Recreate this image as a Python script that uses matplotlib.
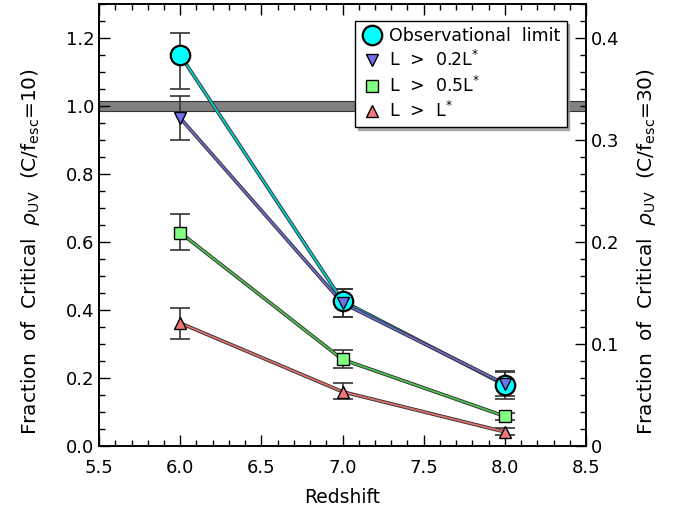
import numpy as np
import matplotlib
matplotlib.use("Agg")
import matplotlib.pyplot as plt
import matplotlib.patheffects as pe
from matplotlib.ticker import MultipleLocator, FixedFormatter, FixedLocator

# data
redshift = [6.0, 7.0, 8.0]

obs = [1.15, 0.427, 0.180]
obs_lo = [0.10, 0.047, 0.042]
obs_hi = [0.065, 0.035, 0.042]

l02 = [0.965, 0.421, 0.183]
l02_lo = [0.064, 0.04, 0.035]
l02_hi = [0.066, 0.04, 0.035]

l05 = [0.628, 0.255, 0.088]
l05_lo = [0.051, 0.026, 0.010]
l05_hi = [0.055, 0.028, 0.010]

l1 = [0.362, 0.160, 0.042]
l1_lo = [0.048, 0.020, 0.008]
l1_hi = [0.045, 0.025, 0.012]

band = (0.986, 1.014)

plt.rcParams['font.family'] = 'DejaVu Sans'
plt.rcParams['font.size'] = 13
plt.rcParams['mathtext.fontset'] = 'dejavusans'

fig = plt.figure(figsize=(6.83, 5.17), dpi=100)
ax = fig.add_axes([0.145, 0.137, 0.713, 0.855])

ax.axhspan(band[0], band[1], facecolor='#808080', edgecolor='#333333', lw=0.8, zorder=1)

def series(y, lo, hi, marker, fc, lc, ms, label):
    ax.errorbar(redshift, y, yerr=[lo, hi], fmt='none', ecolor='#333333',
                elinewidth=1.2, capsize=7, capthick=1.2, zorder=3)
    ax.plot(redshift, y, '-', color=lc, lw=1.3, zorder=4,
            path_effects=[pe.Stroke(linewidth=2.6, foreground='#333333'), pe.Normal()])
    ax.plot(redshift, y, marker, ls='none', ms=ms, mfc=fc, mec='k',
            mew=1.6 if marker == 'o' else 1.0, zorder=5, label=label)

series(obs, obs_lo, obs_hi, 'o', '#00ffff', '#00d0d0', 14, 'Observational  limit')
series(l02, l02_lo, l02_hi, 'v', '#7070f0', '#6a6ad0', 8.5, r'L  >  0.2L$^{*}$')
series(l05, l05_lo, l05_hi, 's', '#80ff80', '#50c050', 8.5, r'L  >  0.5L$^{*}$')
series(l1, l1_lo, l1_hi, '^', '#f07878', '#e07070', 8.5, r'L  >  L$^{*}$')

ax.set_xlim(5.5, 8.5)
ax.set_ylim(0.0, 1.3)
ax.xaxis.set_major_locator(MultipleLocator(0.5))
ax.xaxis.set_minor_locator(MultipleLocator(0.1))
ax.yaxis.set_major_locator(MultipleLocator(0.2))
ax.yaxis.set_minor_locator(MultipleLocator(0.05))
ax.xaxis.set_major_formatter(matplotlib.ticker.FormatStrFormatter('%.1f'))
ax.yaxis.set_major_formatter(matplotlib.ticker.FormatStrFormatter('%.1f'))
ax.tick_params(which='both', direction='in', top=True, right=False, width=1.0)
ax.tick_params(which='major', length=8)
ax.tick_params(which='minor', length=4.5)
ax.tick_params(axis='x', pad=9)
ax.set_xlabel('Redshift', fontsize=13.5, labelpad=8)
ax.set_ylabel(r'Fraction  of  Critical  $\rho_{\rm UV}$  (C/f$_{\rm esc}$=10)',
              fontsize=14.5)
ax.yaxis.set_label_coords(-0.118, 0.44)

ax2 = ax.twinx()
ax2.set_ylim(0.0, 1.3 / 3)
ax2.yaxis.set_major_locator(FixedLocator([0, 0.1, 0.2, 0.3, 0.4]))
ax2.yaxis.set_major_formatter(FixedFormatter(['0', '0.1', '0.2', '0.3', '0.4']))
ax2.yaxis.set_minor_locator(MultipleLocator(0.05 / 3))
ax2.tick_params(which='both', direction='in', width=1.0)
ax2.tick_params(which='major', length=8)
ax2.tick_params(which='minor', length=4.5)
ax2.set_ylabel(r'Fraction  of  Critical  $\rho_{\rm UV}$  (C/f$_{\rm esc}$=30)',
               fontsize=14.5)
ax2.yaxis.set_label_coords(1.10, 0.44)

for a in (ax, ax2):
    for s in a.spines.values():
        s.set_linewidth(1.2)

leg = ax.legend(loc='upper right', bbox_to_anchor=(0.96, 0.962), fontsize=12.5,
                frameon=True, fancybox=False, shadow={'color': '#999999', 'alpha': 0.8},
                borderpad=0.35, handletextpad=0.4, labelspacing=0.3, handlelength=1.2,
                borderaxespad=0.0)
leg.get_frame().set_edgecolor('k')
leg.get_frame().set_linewidth(1.0)

fig.savefig('out.png', dpi=100)
